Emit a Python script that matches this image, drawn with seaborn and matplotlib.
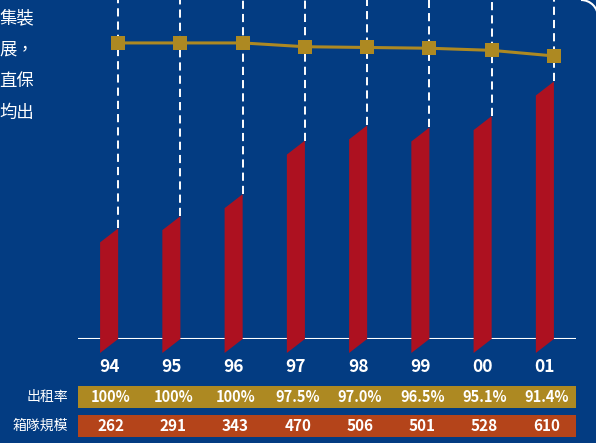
import matplotlib
matplotlib.use("Agg")
import matplotlib.pyplot as plt
import numpy as np
import seaborn as sns
from matplotlib.patches import Polygon, Arc

YEARS = ["94", "95", "96", "97", "98", "99", "00", "01"]
FLEET = [262, 291, 343, 470, 506, 501, 528, 610]
OCCUPANCY = [100.0, 100.0, 100.0, 97.5, 97.0, 96.5, 95.1, 91.4]
OCC_LABELS = ["100%", "100%", "100%", "97.5%", "97.0%", "96.5%", "95.1%", "91.4%"]
ROW_LABELS = ["出租率", "箱隊規模"]
SIDE_TEXT = ["集裝", "展，", "直保", "均出"]

NAVY = "#033c82"
RED = "#ad1120"
GOLD = "#ad8922"
ORANGE = "#b4441a"
BAR_W = 0.29

sns.set_style("white")
plt.rcParams["font.family"] = ["Noto Sans CJK TC", "DejaVu Sans"]

W, H = 596, 443
fig = plt.figure(figsize=(W / 100, H / 100), dpi=100, facecolor=NAVY)

# main chart area: baseline at y=339px, spans x 78..576
ax = fig.add_axes([78 / W, (H - 339) / H, 498 / W, 339 / H])
ax.set_facecolor(NAVY)
YMAX = 803
sns.barplot(x=YEARS, y=FLEET, color=RED, width=BAR_W, saturation=1, ax=ax, zorder=3)
ax.set_xlim(-0.5, 7.5)
ax.set_ylim(0, YMAX)

# turn the plain bars into slanted panels
px_per_unit = 339 / YMAX
shear = 14 / px_per_unit
for p in list(ax.patches):
    x0, w, h = p.get_x(), p.get_width(), p.get_height()
    x1 = x0 + w
    poly = Polygon([(x0, -shear), (x1, 0), (x1, h), (x0, h - shear)],
                   closed=True, facecolor=RED, edgecolor="none", zorder=3, clip_on=False)
    ax.add_patch(poly)
    # dashed guide from the bar top up to the frame
    ax.vlines(x1, h, YMAX, colors="white", linewidth=1.4, linestyles=(0, (4.2, 2.6)), zorder=1)
    p.remove()

ax.axhline(0, color="white", linewidth=1.5, zorder=2)
for s in ax.spines.values():
    s.set_visible(False)
ax.set_yticks([])
ax.set_xticks(range(len(YEARS)))
ax.set_xticklabels(YEARS, fontsize=12.5, fontweight="bold", color="white")
ax.tick_params(axis="x", length=0, pad=14)
ax.set_xlabel("")
ax.set_ylabel("")

# occupancy line on its own scale, markers sit on the dashed guides
ax2 = ax.twinx()
sns.lineplot(x=np.arange(len(YEARS)) + BAR_W / 2, y=OCCUPANCY, ax=ax2, color=GOLD,
             linewidth=2.2, marker="s", markersize=9.5, markeredgewidth=0, zorder=4)
ax2.set_ylim(-95.8, 128.4)
ax2.set_xlim(-0.5, 7.5)
ax2.set_yticks([])
ax2.set_ylabel("")
ax2.patch.set_visible(False)
for s in ax2.spines.values():
    s.set_visible(False)

# table rows underneath
tax = fig.add_axes([78 / W, (H - 437) / H, 498 / W, 51 / H])
tax.patch.set_visible(False)
tax.barh([1, 0], [8, 8], left=-0.5, height=0.74, color=[GOLD, ORANGE],
         edgecolor="none", linewidth=0)
tax.set_xlim(-0.5, 7.5)
tax.set_ylim(-0.37, 1.37)
tax.axis("off")
for i in range(len(YEARS)):
    tax.text(i + 0.03, 1, OCC_LABELS[i], ha="center", va="center", color="white",
             fontsize=10.5, fontweight="bold")
    tax.text(i + 0.03, 0, str(FLEET[i]), ha="center", va="center", color="white",
             fontsize=11, fontweight="bold")
for row, label in zip([1, 0], ROW_LABELS):
    tax.text(-0.66, row, label, ha="right", va="center", color="white", fontsize=10)

# clipped paragraph text at the left edge
for k, line in enumerate(SIDE_TEXT):
    fig.text(34 / W, 1 - (18 + 31.5 * k) / H, line, ha="right", va="center",
             color="white", fontsize=12.5)

# rounded frame corner top right
fig.patches.append(Arc((581 / W, (H - 17) / H), 34 / W, 34 / H, theta1=0, theta2=90,
                       color="white", linewidth=1.5, transform=fig.transFigure, figure=fig))

fig.savefig("out.png", dpi=100, facecolor=NAVY)
